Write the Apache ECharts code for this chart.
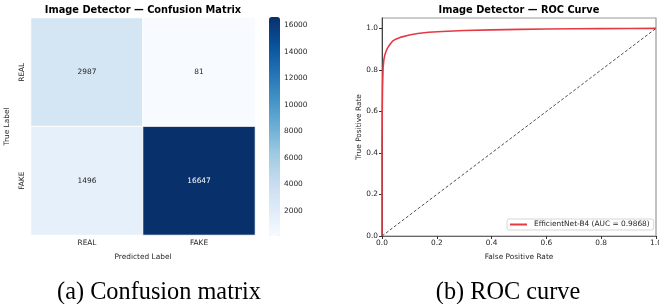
<!DOCTYPE html>
<html>
<head>
<meta charset="utf-8">
<script src="https://cdn.jsdelivr.net/npm/echarts@6.0.0/dist/echarts.min.js"></script>
<style>
  html, body { margin: 0; padding: 0; background: #fff; }
  #main { width: 659px; height: 304px; }
</style>
</head>
<body>
<div id="main"></div>
<script>
// confusion matrix (rows = true label, cols = predicted label)
const cmLabels = ['REAL', 'FAKE'];
const cmValues = [
  [2987, 81],
  [1496, 16647]
];
const cbTicks = [2000, 4000, 6000, 8000, 10000, 12000, 14000, 16000];

// ROC curve
const rocFpr = [0, 0, 0.001, 0.002, 0.004, 0.007, 0.01, 0.015, 0.02, 0.03, 0.04, 0.05, 0.07, 0.1, 0.13, 0.17, 0.22, 0.3, 0.4, 0.5, 0.6, 0.7, 0.8, 0.9, 1.0];
const rocTpr = [0, 0.45, 0.62, 0.72, 0.81, 0.85, 0.87, 0.89, 0.905, 0.925, 0.94, 0.948, 0.958, 0.968, 0.975, 0.981, 0.985, 0.99, 0.993, 0.995, 0.997, 0.998, 0.999, 0.9995, 1.0];
const rocTicks = [0, 0.2, 0.4, 0.6, 0.8, 1.0];
const rocName = 'EfficientNet-B4 (AUC = 0.9868)';

const blues = ['#f7fbff', '#deebf7', '#c6dbef', '#9ecae1', '#6baed6', '#4292c6', '#2171b5', '#08519c', '#08306b'];
const font = 'DejaVu Sans';
const txt = '#262626';
const fs = 7.4;

let flat = [];
cmValues.forEach(r => r.forEach(v => flat.push(v)));
const vMin = Math.min.apply(null, flat);
const vMax = Math.max.apply(null, flat);

let heatData = [];
for (let i = 0; i < cmValues.length; i++) {
  for (let j = 0; j < cmValues[i].length; j++) {
    let v = cmValues[i][j];
    heatData.push({
      value: [j, i, v],
      label: { color: (v - vMin) / (vMax - vMin) > 0.6 ? '#fff' : txt }
    });
  }
}

let rocData = rocFpr.map((x, i) => [x, rocTpr[i]]);

const chart = echarts.init(document.getElementById('main'));
const option = {
  animation: false,
  textStyle: { fontFamily: font },
  title: [
    { text: 'Image Detector \u2014 Confusion Matrix', left: 143, top: 5, padding: 0, textAlign: 'center',
      textStyle: { fontFamily: font, fontSize: 9.8, fontWeight: 'bold', color: '#000' } },
    { text: 'Image Detector \u2014 ROC Curve', left: 519, top: 5, padding: 0, textAlign: 'center',
      textStyle: { fontFamily: font, fontSize: 9.8, fontWeight: 'bold', color: '#000' } },
    { text: '(a) Confusion matrix', left: 159, top: 281, padding: 0, textAlign: 'center',
      textStyle: { fontFamily: 'Liberation Serif', fontSize: 24.3, fontWeight: 'normal', color: '#000' } },
    { text: '(b) ROC curve', left: 508, top: 281, padding: 0, textAlign: 'center',
      textStyle: { fontFamily: 'Liberation Serif', fontSize: 24.3, fontWeight: 'normal', color: '#000' } }
  ],
  grid: [
    { left: 31, top: 18, width: 224, height: 217, outerBoundsMode: 'none' },
    { left: 269, top: 17, width: 11, height: 219, outerBoundsMode: 'none' },
    { left: 382, top: 18, width: 274, height: 218, outerBoundsMode: 'none',
      show: true, borderColor: '#999', borderWidth: 1.2 }
  ],
  visualMap: [{
    type: 'continuous',
    seriesIndex: 0,
    min: vMin, max: vMax,
    left: 269, top: 17,
    itemWidth: 11, itemHeight: 219,
    padding: 0,
    calculable: false,
    hoverLink: false,
    text: null,
    inRange: { color: blues }
  }],
  legend: {
    data: [{ name: rocName, icon: 'rect' }],
    left: 507, top: 219,
    padding: [2, 4, 2, 3],
    itemWidth: 17, itemHeight: 2, itemGap: 4,
    borderColor: '#ccc', borderWidth: 0.8, borderRadius: 2,
    backgroundColor: '#fff',
    textStyle: { fontFamily: font, fontSize: fs, color: txt, padding: [0, 0, 0, 2] }
  },
  xAxis: [
    { gridIndex: 0, type: 'category', data: cmLabels,
      name: 'Predicted Label', nameLocation: 'middle', nameGap: 19,
      nameTextStyle: { fontSize: fs, color: txt },
      axisLine: { show: false },
      axisTick: { alignWithLabel: true, length: 3, lineStyle: { color: '#333' } },
      axisLabel: { fontSize: fs, color: txt, margin: 5 } },
    { gridIndex: 1, type: 'value', show: false },
    { gridIndex: 2, type: 'value', min: 0, max: 1,
      name: 'False Positive Rate', nameLocation: 'middle', nameGap: 18,
      nameTextStyle: { fontSize: fs, color: txt },
      axisLine: { lineStyle: { color: '#666' } },
      axisTick: { length: 3, customValues: rocTicks, lineStyle: { color: '#333' } },
      axisLabel: { fontSize: fs, color: txt, margin: 4, customValues: rocTicks,
        alignMaxLabel: 'center', alignMinLabel: 'center',
        formatter: v => v.toFixed(1) },
      splitLine: { show: false } }
  ],
  yAxis: [
    { gridIndex: 0, type: 'category', data: cmLabels, inverse: true,
      name: 'True Label', nameLocation: 'middle', nameGap: 20, nameRotate: 90,
      nameTextStyle: { fontSize: fs, color: txt },
      axisLine: { show: false },
      axisTick: { alignWithLabel: true, length: 3, lineStyle: { color: '#333' } },
      axisLabel: { fontSize: fs, color: txt, rotate: 90, margin: 5 } },
    { gridIndex: 1, type: 'value', position: 'right', min: vMin, max: vMax,
      axisLine: { show: false },
      axisTick: { show: true, length: 3, customValues: cbTicks, lineStyle: { color: '#333' } },
      axisLabel: { fontSize: fs, color: txt, margin: 4, customValues: cbTicks,
        formatter: v => String(v) },
      splitLine: { show: false } },
    { gridIndex: 2, type: 'value', min: 0, max: 1.05,
      name: 'True Positive Rate', nameLocation: 'middle', nameGap: 19, nameRotate: 90,
      nameTextStyle: { fontSize: fs, color: txt },
      axisLine: { show: true, lineStyle: { color: '#444' } },
      axisTick: { show: true, length: 3, customValues: rocTicks, lineStyle: { color: '#333' } },
      axisLabel: { fontSize: fs, color: txt, margin: 4, customValues: rocTicks,
        formatter: v => v.toFixed(1) },
      splitLine: { show: false } }
  ],
  series: [
    { type: 'heatmap', xAxisIndex: 0, yAxisIndex: 0, data: heatData,
      itemStyle: { borderColor: '#fff', borderWidth: 1 },
      label: { show: true, fontSize: fs, fontFamily: font },
      emphasis: { disabled: true } },
    { type: 'line', name: 'chance', xAxisIndex: 2, yAxisIndex: 2,
      data: [[0, 0], [1, 1]], symbol: 'none', silent: true,
      lineStyle: { color: '#222', width: 0.8, type: [3, 2] } },
    { type: 'line', name: rocName, xAxisIndex: 2, yAxisIndex: 2,
      data: rocData, symbol: 'none', smooth: false,
      itemStyle: { color: '#e63946' },
      lineStyle: { color: '#e63946', width: 1.6 } }
  ]
};
chart.setOption(option);
</script>
</body>
</html>
